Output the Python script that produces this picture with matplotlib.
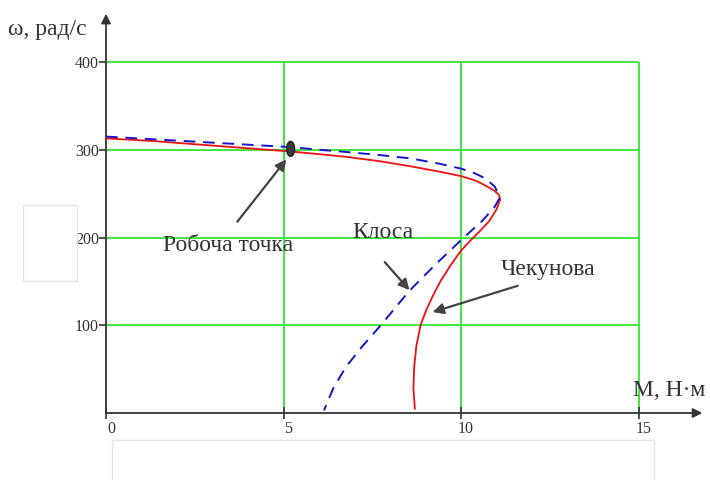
import numpy as np
import matplotlib
matplotlib.use('Agg')
import matplotlib.pyplot as plt
from matplotlib.patches import Ellipse, Rectangle
from matplotlib.transforms import ScaledTranslation

# Kloss characteristic (M, omega)
kloss_m = [0.0, 1.3, 2.6, 3.9, 5.2, 6.0, 6.75, 7.7, 8.6, 9.4, 10.0, 10.4, 10.7, 10.95, 11.1,
           10.95, 10.6, 10.08, 9.3, 8.54, 7.74, 7.2, 6.75, 6.4, 6.14]
kloss_w = [315, 312, 309, 306, 303, 300, 297.5, 294, 290, 284, 278.5, 273, 267, 258, 246,
           235, 219, 200, 170, 139, 100, 75, 52, 28, 3]

# Chekunov characteristic
chek_m = [0.0, 1.3, 2.6, 3.9, 5.2, 6.0, 6.75, 7.7, 8.6, 9.4, 10.0, 10.4, 10.7, 10.95, 11.08, 11.1,
          11.0, 10.8, 10.55, 10.3, 10.0, 9.7, 9.42, 9.2, 9.02, 8.86, 8.74, 8.68, 8.66, 8.7]
chek_w = [313, 310, 306, 302, 298, 295, 292, 287, 281, 275, 270, 265, 259, 253, 248, 243,
          232, 219, 208, 198, 185, 168, 150, 133, 117, 100, 76, 52, 28, 5]

work_m, work_w = 5.2, 301

x_ticks = [0, 5, 10, 15]
y_ticks = [100, 200, 300, 400]

plt.rcParams['font.family'] = ['Liberation Serif', 'DejaVu Serif']

fig = plt.figure(figsize=(7.1, 4.8), dpi=100)
W, H = 710, 480
x0, y0 = 106, 413
px_x = 35.5
px_y = 0.8775
xmax, ymax = 16.8, 455
ax = fig.add_axes([x0 / W, (H - y0) / H, xmax * px_x / W, ymax * px_y / H])
ax.set_xlim(0, xmax)
ax.set_ylim(0, ymax)
for s in ax.spines.values():
    s.set_visible(False)

green = '#3ee83e'
ax.vlines([5, 10, 15], 0, 400, color=green, lw=1.4, zorder=1)
ax.hlines(y_ticks, 0, 15, color=green, lw=1.4, zorder=1)

# axes with arrows
ax.annotate('', xy=(xmax, 0), xytext=(0, 0), annotation_clip=False,
            arrowprops=dict(arrowstyle='-|>', color='#333333', lw=1.3, mutation_scale=14, shrinkA=0, shrinkB=0))
ax.annotate('', xy=(0, ymax), xytext=(0, 0), annotation_clip=False,
            arrowprops=dict(arrowstyle='-|>', color='#333333', lw=1.3, mutation_scale=14, shrinkA=0, shrinkB=0))

ax.set_xticks(x_ticks)
ax.set_yticks(y_ticks)
ax.set_xticklabels([str(v) for v in x_ticks])
ax.set_yticklabels([str(v) for v in y_ticks])
ax.tick_params(axis='x', direction='inout', length=8, width=1.2, color='#333333',
               labelsize=11.5, labelcolor='#333333', pad=2)
ax.tick_params(axis='y', direction='out', length=5, width=1.2, color='#333333',
               labelsize=11.5, labelcolor='#333333', pad=0)
shift = ScaledTranslation(5 / 100, 0, fig.dpi_scale_trans)
for lab in ax.get_xticklabels():
    lab.set_transform(lab.get_transform() + shift)

ax.plot(chek_m, chek_w, color='#ee1111', lw=1.3, zorder=3, clip_on=False)
ax.plot(kloss_m, kloss_w, color='#1515cc', lw=1.4, ls=(0, (6, 4)), zorder=4, clip_on=False)

ax.add_patch(Ellipse((work_m, work_w), width=8 / px_x, height=15 / px_y,
                     facecolor='#3a3a3a', edgecolor='#222222', zorder=5))

arrow_kw = dict(arrowstyle='-|>', color='#444444', lw=1.6, mutation_scale=16, shrinkA=0, shrinkB=0)
ax.annotate('', xy=(5.08, 289), xytext=(3.7, 218), arrowprops=arrow_kw)
ax.annotate('', xy=(8.55, 140), xytext=(7.85, 172), arrowprops=arrow_kw)
ax.annotate('', xy=(9.2, 115), xytext=(11.6, 145), arrowprops=arrow_kw)

ax.text(3.44, 191, 'Робоча точка', fontsize=17, color='#333333', ha='center', va='center')
ax.text(7.8, 206, 'Клоса', fontsize=17, color='#333333', ha='center', va='center')
ax.text(12.45, 163, 'Чекунова', fontsize=17, color='#333333', ha='center', va='center')

fig.text(8 / W, 1 - 30 / H, 'ω, рад/с', fontsize=17, color='#333333', ha='left', va='center')
fig.text(633 / W, 1 - 390 / H, 'M, Н·м', fontsize=17, color='#333333', ha='left', va='center')

# faint empty frames present in the source image
fig.patches.append(Rectangle((23 / W, 1 - 281 / H), 54 / W, 76 / H, transform=fig.transFigure,
                             fill=False, edgecolor='#e4e4e4', lw=1))
fig.patches.append(Rectangle((112 / W, -0.01), 542 / W, 1 - 440 / H + 0.01, transform=fig.transFigure,
                             fill=False, edgecolor='#e4e4e4', lw=1))

fig.savefig('out.png', dpi=100)
